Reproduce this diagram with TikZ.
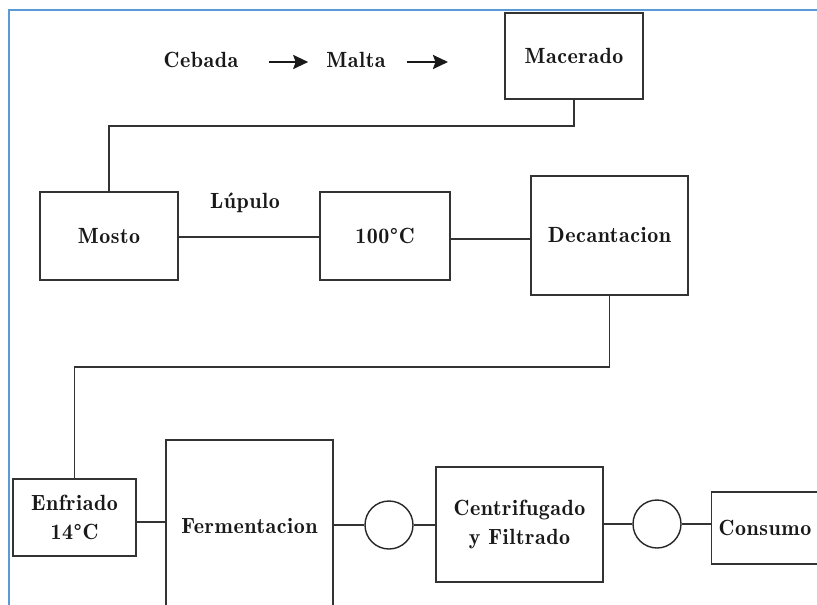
\documentclass[tikz,border=0pt]{standalone}
\usepackage{fontspec}
\usetikzlibrary{arrows.meta}
\newfontfamily\demifont{lmromandemi10-regular.otf}[LetterSpace=2.5]
\newcommand\dfont{\demifont\fontsize{22}{29}\selectfont}
\begin{document}
\begin{tikzpicture}[x=1pt,y=-1pt,
  box/.style={draw=black!80,line width=1.8pt,rectangle,inner sep=0pt,align=center,font=\dfont,text=black!90},
  circ/.style={draw=black!85,line width=1.4pt,circle,minimum size=48pt,inner sep=0pt},
  conn/.style={draw=black!80,line width=1.6pt},
  arr/.style={draw=black!90,line width=2.4pt,-{Stealth[length=15pt,width=14pt,inset=2.5pt]}},
  lbl/.style={inner sep=0pt,font=\dfont,text=black!90},
  frame/.style={draw={rgb,255:red,91;green,155;blue,213},line width=1.6pt}]
\useasboundingbox (0,0) rectangle (817,605);
% frame
\draw[frame] (9,606) -- (9,10) -- (818,10);
% top row
\node[lbl] (cebada) at (201,60) {Cebada};
\node[lbl] (malta) at (356,60) {Malta};
\coordinate (a2end) at (448,62);
\draw[arr,shorten <=30pt,shorten >=18pt] ([yshift=-2pt]cebada.east) -- ([yshift=-2pt]malta.west);
\draw[arr,shorten <=21pt] ([yshift=-2pt]malta.east) -- (a2end);
\node[box,minimum width=138pt,minimum height=86pt] (macerado) at (574,56) {Macerado};
% second row
\node[box,minimum width=138pt,minimum height=88pt] (mosto) at (109,236) {Mosto};
\node[box,minimum width=130pt,minimum height=88pt] (c100) at (385,236) {100°C};
\node[box,minimum width=157pt,minimum height=119pt] (dec) at (609.5,235.5) {Decantacion};
\node[lbl] (lupulo) at (245,203) {Lúpulo};
\draw[conn] (macerado.south) -- (macerado.south |- 0,126) -| (mosto.north);
\draw[conn] ([yshift=-1pt]mosto.east) -- ([yshift=-1pt]c100.west);
\draw[conn] ([yshift=-3pt]c100.east) -- ([yshift=-3pt]c100.east -| dec.west);
% third row
\node[box,minimum width=123pt,minimum height=77pt] (enf) at (74.5,517.5) {Enfriado\\14°C};
\node[box,minimum width=167pt,minimum height=172pt] (ferm) at (249.5,526) {Fermentacion};
\node[circ] (c1) at (389,525) {};
\node[box,minimum width=167pt,minimum height=115pt] (cent) at (519.5,524.5) {Centrifugado\\y Filtrado};
\node[circ] (c2) at (657,524) {};
\node[box,minimum width=107pt,minimum height=72pt] (cons) at (765,528) {Consumo};
\draw[conn] (dec.south) -- (dec.south |- 0,367) -| (enf.north);
\draw[conn] ([yshift=-4.5pt]enf.east) -- ([yshift=-4.5pt]enf.east -| ferm.west);
\draw[conn] (c1.west) -- (c1.west -| ferm.east);
\draw[conn] (c1.east) -- (c1.east -| cent.west);
\draw[conn] (c2.west) -- (c2.west -| cent.east);
\draw[conn] (c2.east) -- (c2.east -| cons.west);
\end{tikzpicture}
\end{document}
